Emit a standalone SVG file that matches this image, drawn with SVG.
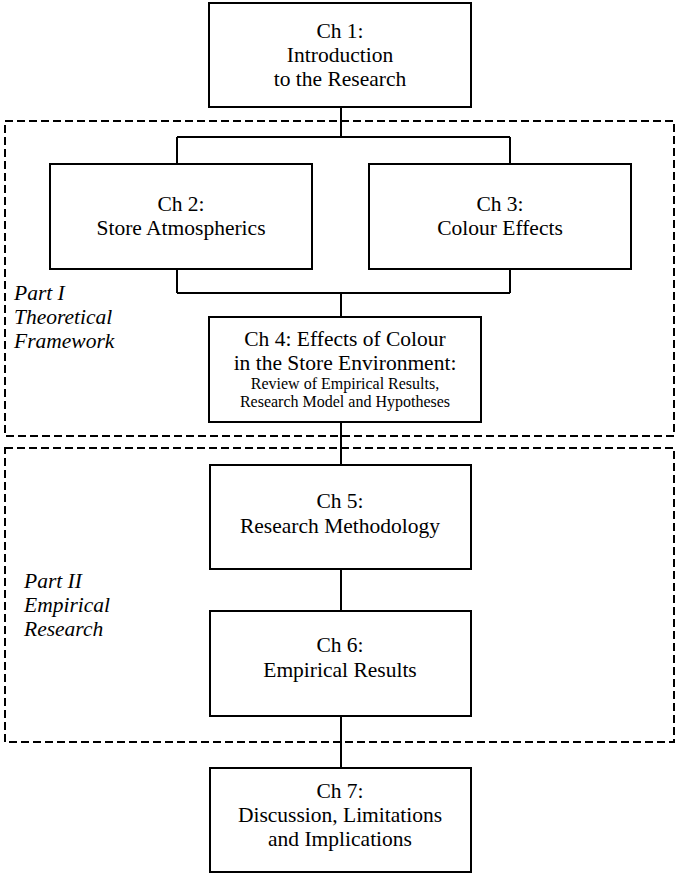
<svg xmlns="http://www.w3.org/2000/svg" width="676" height="875" viewBox="0 0 676 875">
  <style>
    .box { fill: #ffffff; stroke: #000000; stroke-width: 2; }
    .part { fill: none; stroke: #000000; stroke-width: 2; stroke-dasharray: 8 4; }
    .link { fill: none; stroke: #000000; stroke-width: 2; }
    .t { font-family: "Liberation Serif", "Times New Roman", serif; font-size: 21.5px; fill: #000000; text-anchor: middle; }
    .s { font-size: 16px; }
    .lbl { font-family: "Liberation Serif", "Times New Roman", serif; font-size: 21.5px; font-style: italic; fill: #000000; }
  </style>

  <!-- part frames -->
  <g id="part1">
    <rect class="part" x="5" y="121" width="669" height="315"/>
    <text class="lbl" x="14" y="300">Part I</text>
    <text class="lbl" x="14" y="324">Theoretical</text>
    <text class="lbl" x="14" y="348">Framework</text>
  </g>
  <g id="part2">
    <rect class="part" x="5" y="448" width="669" height="294"/>
    <text class="lbl" x="24" y="588">Part II</text>
    <text class="lbl" x="24" y="612">Empirical</text>
    <text class="lbl" x="24" y="636">Research</text>
  </g>

  <!-- connectors -->
  <g id="connectors">
    <path class="link" d="M341 107 V137 M177 137 H510 M177 137 V164 M510 137 V164"/>
    <path class="link" d="M177 269 V293 M510 269 V293 M177 293 H510 M341 293 V317"/>
    <path class="link" d="M341 422 V465"/>
    <path class="link" d="M341 569 V611"/>
    <path class="link" d="M341 716 V768"/>
  </g>

  <g id="ch1">
    <rect class="box" x="209" y="3" width="262" height="104"/>
    <text class="t" x="340" y="38">Ch 1:</text>
    <text class="t" x="340" y="62">Introduction</text>
    <text class="t" x="340" y="86">to the Research</text>
  </g>
  <g id="ch2">
    <rect class="box" x="50" y="164" width="262" height="105"/>
    <text class="t" x="181" y="211">Ch 2:</text>
    <text class="t" x="181" y="235">Store Atmospherics</text>
  </g>
  <g id="ch3">
    <rect class="box" x="369" y="164" width="262" height="105"/>
    <text class="t" x="500" y="211">Ch 3:</text>
    <text class="t" x="500" y="235">Colour Effects</text>
  </g>
  <g id="ch4">
    <rect class="box" x="209" y="317" width="272" height="105"/>
    <text class="t" x="345" y="346">Ch 4: Effects of Colour</text>
    <text class="t" x="345" y="370">in the Store Environment:</text>
    <text class="t s" x="345" y="389">Review of Empirical Results,</text>
    <text class="t s" x="345" y="407">Research Model and Hypotheses</text>
  </g>
  <g id="ch5">
    <rect class="box" x="210" y="465" width="261" height="104"/>
    <text class="t" x="340" y="508">Ch 5:</text>
    <text class="t" x="340" y="533">Research Methodology</text>
  </g>
  <g id="ch6">
    <rect class="box" x="210" y="611" width="261" height="105"/>
    <text class="t" x="340" y="652">Ch 6:</text>
    <text class="t" x="340" y="677">Empirical Results</text>
  </g>
  <g id="ch7">
    <rect class="box" x="210" y="768" width="261" height="104"/>
    <text class="t" x="340" y="798">Ch 7:</text>
    <text class="t" x="340" y="822">Discussion, Limitations</text>
    <text class="t" x="340" y="846">and Implications</text>
  </g>
</svg>
